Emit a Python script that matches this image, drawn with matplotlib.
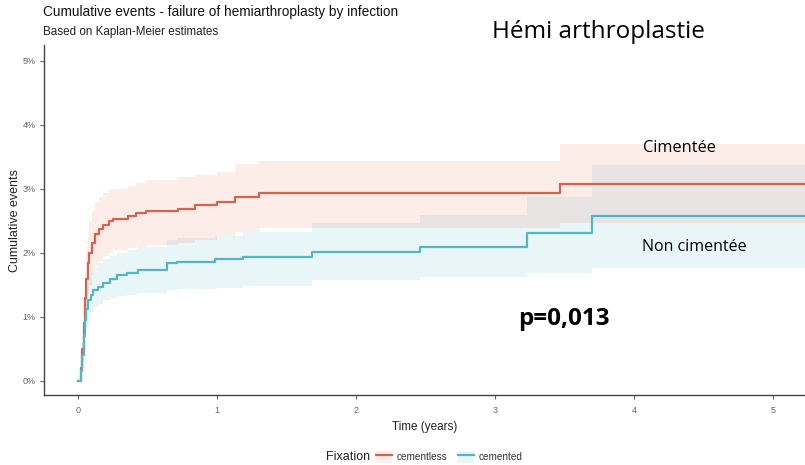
import matplotlib
matplotlib.use('Agg')
from matplotlib import pyplot as plt
from matplotlib.lines import Line2D
from matplotlib.patches import Patch
import numpy as np

# Kaplan-Meier steps (percent)
cementless_t = [0, 0.02, 0.03, 0.04, 0.05, 0.06, 0.07, 0.08, 0.10, 0.12, 0.15, 0.18,
                0.22, 0.25, 0.36, 0.42, 0.49, 0.72, 0.84, 1.0, 1.13, 1.30, 3.47]
cementless_est = [0, 0.2, 0.5, 0.9, 1.3, 1.6, 1.85, 2.0, 2.15, 2.3, 2.38, 2.44,
                  2.5, 2.53, 2.57, 2.62, 2.65, 2.69, 2.75, 2.79, 2.87, 2.93, 3.08]
cementless_hi = [0, 0.3, 0.7, 1.2, 1.7, 2.1, 2.35, 2.5, 2.65, 2.8, 2.88, 2.94,
                 2.98, 3.0, 3.05, 3.1, 3.14, 3.18, 3.22, 3.27, 3.39, 3.44, 3.70]
cementless_lo = [0, 0.1, 0.3, 0.6, 0.9, 1.15, 1.35, 1.5, 1.65, 1.8, 1.88, 1.95,
                 2.0, 2.04, 2.08, 2.1, 2.12, 2.15, 2.2, 2.24, 2.32, 2.39, 2.47]

cemented_t = [0, 0.02, 0.03, 0.04, 0.05, 0.06, 0.07, 0.09, 0.11, 0.14, 0.18, 0.23,
              0.28, 0.35, 0.43, 0.64, 0.71, 0.985, 1.19, 1.68, 2.46, 3.23, 3.70]
cemented_est = [0, 0.15, 0.4, 0.7, 0.95, 1.12, 1.27, 1.35, 1.42, 1.47, 1.53, 1.6,
                1.66, 1.69, 1.74, 1.84, 1.86, 1.90, 1.94, 2.02, 2.10, 2.31, 2.57]
cemented_hi = [0, 0.25, 0.6, 0.95, 1.25, 1.45, 1.6, 1.7, 1.78, 1.84, 1.9, 1.95,
               2.0, 2.04, 2.1, 2.2, 2.23, 2.27, 2.32, 2.47, 2.59, 2.88, 3.37]
cemented_lo = [0, 0.05, 0.2, 0.45, 0.7, 0.85, 1.0, 1.08, 1.15, 1.2, 1.26, 1.3,
               1.33, 1.35, 1.37, 1.42, 1.43, 1.46, 1.49, 1.57, 1.63, 1.68, 1.76]

t_end = 5.4
x_ticks = [0, 1, 2, 3, 4, 5]
y_ticks = [0, 1, 2, 3, 4, 5]

red = '#D5634F'
blue = '#52B6C3'
red_fill = '#FDEDE9'
blue_fill = '#E9F6F8'
both_fill = '#E8E4E4'

plt.rcParams['font.family'] = ['Liberation Sans', 'DejaVu Sans']
fig = plt.figure(figsize=(8.05, 4.65), dpi=100)
ax = fig.add_axes([44/805, 70/465, 761/805, 350/465])

def steps(t, v):
    return list(t) + [t_end], list(v) + [v[-1]]

def at(t, v, grid):
    idx = np.searchsorted(np.array(t), grid, side='right') - 1
    return np.array(v)[idx]

for t, lo, hi, fill in [(cementless_t, cementless_lo, cementless_hi, red_fill),
                        (cemented_t, cemented_lo, cemented_hi, blue_fill)]:
    tt, ll = steps(t, lo)
    _, hh = steps(t, hi)
    ax.fill_between(tt, ll, hh, step='post', color=fill, linewidth=0)

# overlap of the two confidence bands
grid = np.array(sorted(set(cementless_t) | set(cemented_t)) + [t_end])
ov_lo = np.maximum(at(cementless_t, cementless_lo, grid), at(cemented_t, cemented_lo, grid))
ov_hi = np.minimum(at(cementless_t, cementless_hi, grid), at(cemented_t, cemented_hi, grid))
ax.fill_between(grid, ov_lo, ov_hi, where=ov_hi > ov_lo, step='post',
                color=both_fill, linewidth=0)

for t, est, col in [(cementless_t, cementless_est, red), (cemented_t, cemented_est, blue)]:
    tt, ee = steps(t, est)
    ax.step(tt, ee, where='post', color=col, lw=1.6)

ax.set_xlim(-0.245, 5.23)
ax.set_ylim(-0.22, 5.25)
ax.set_xticks(x_ticks)
ax.set_yticks(y_ticks)
ax.set_yticklabels([f'{v}%' for v in y_ticks])
ax.tick_params(labelsize=6.5, colors='#666666', length=3, width=0.8)
ax.tick_params(axis='x', pad=5)
ax.tick_params(axis='y', pad=3)
for s in ['top', 'right']:
    ax.spines[s].set_visible(False)
for s in ['left', 'bottom']:
    ax.spines[s].set_color('#444444')
    ax.spines[s].set_linewidth(1.0)
ax.set_xlabel('Time (years)', fontsize=8.4, color='#222222', labelpad=4)
ax.set_ylabel('Cumulative events', fontsize=9, color='#222222', labelpad=1)

fig.text(43/805, 1 - 12/465, 'Cumulative events - failure of hemiarthroplasty by infection',
         fontsize=9.8, va='center', ha='left', color='#111111')
fig.text(43/805, 1 - 32/465, 'Based on Kaplan-Meier estimates',
         fontsize=8.4, va='center', ha='left', color='#222222')
fig.text(598/805, 1 - 32/465, 'Hémi arthroplastie', fontsize=17.5, va='center', ha='center',
         family=['Open Sans', 'DejaVu Sans'])
fig.text(679/805, 1 - 148/465, 'Cimentée', fontsize=11.8, va='center', ha='center',
         family=['Open Sans', 'DejaVu Sans'])
fig.text(694/805, 1 - 247/465, 'Non cimentée', fontsize=11.5, va='center', ha='center',
         family=['Open Sans', 'DejaVu Sans'])
fig.text(564/805, 1 - 319/465, 'p=0,013', fontsize=17.5, va='center', ha='center',
         fontweight='bold', family=['Open Sans', 'DejaVu Sans'])

fig.text(370/805, 1 - 457/465, 'Fixation', fontsize=9, va='center', ha='right', color='#222222')
handles = [(Patch(facecolor=red_fill, edgecolor='none'), Line2D([], [], color=red, lw=1.6)),
           (Patch(facecolor=blue_fill, edgecolor='none'), Line2D([], [], color=blue, lw=1.6))]
fig.legend(handles, ['cementless', 'cemented'], loc='center left',
           bbox_to_anchor=(372/805, 1 - 457/465), ncol=2, frameon=False,
           fontsize=7.2, handlelength=1.6, handleheight=1.6, handletextpad=0.5,
           columnspacing=1.0, labelcolor='#333333', borderaxespad=0)

fig.savefig('out.png', dpi=100)
